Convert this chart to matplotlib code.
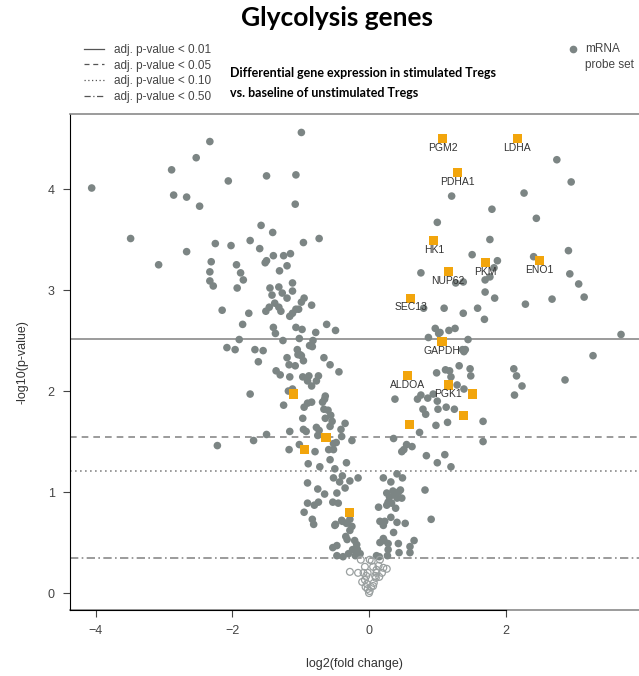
import matplotlib.pyplot as plt
from matplotlib.lines import Line2D

# log2 fold change / -log10 p for every probe set
probe_lfc = [
    -4.06, -3.49, -3.08, -2.89, -2.86, -2.67, -2.67, -2.53, -2.48, -2.33,
    -2.31, -2.33, -2.33, -2.28, -2.25, -2.15, -2.06, -2.02, -1.94, -1.88,
    -1.84, -1.93, -1.85, -1.90, -2.08, -1.96, -1.76, -1.74, -1.67, -1.55,
    -1.60, -1.58, -1.52, -1.50, -1.50, -1.45, -1.42, -1.41, -1.40, -1.38,
    -1.51, -1.46, -1.40, -1.37, -1.32, -1.31, -1.32, -1.29, -1.27, -1.26,
    -1.25, -1.20, -1.20, -1.20, -1.16, -1.15, -1.12, -1.12, -1.12, -1.08,
    -1.07, -1.07, -1.03, -1.07, -1.05, -1.04, -1.02, -0.99, -0.98, -0.95,
    -0.99, -0.96, -0.84, -0.87, -0.83, -0.82, -0.78, -0.73, -0.66, -0.62,
    -0.49, -1.01, -0.99, -0.96, -1.62, -0.57, -1.17, -1.08, -1.36, -0.44,
    -1.30, -1.16, -0.97, -0.88, -0.90, -0.74, -0.77, -0.84, -1.74, -1.18,
    -1.12, -0.64, -1.25, -0.90, -0.84, -0.95, -0.68, -0.65, -0.66, -0.60,
    -0.56, -0.97, -0.64, -0.54, -0.57, -0.96, -0.92, -1.16, -0.77, -0.73,
    -0.75, -0.41, -0.35, -0.40, -0.25, -0.48, -1.50, -1.69, -2.22, -1.17,
    -1.02, -0.79, -0.59, -0.52, -0.52, -0.89, -0.72, -0.57, -0.50, -0.33,
    -0.52, -0.39, -0.16, -0.28, -0.43, -0.35, -0.47, -0.53, -0.45, -0.90,
    -0.75, -0.65, -0.90, -0.80, -0.74, -0.95, -0.83, -0.81, -0.49, -0.39,
    -0.33, -0.28, -0.25, -0.28, -0.34, -0.32, -0.21, -0.18, -0.24, -0.17,
    -0.13, -0.47, -0.53, -0.47, -0.38, -0.30, -0.20, -0.40, -0.50,
    2.75, 2.96, 2.27, 1.21, 1.80, 2.45, 1.00, 1.77, 2.92, 1.51,
    1.88, 2.41, 1.83, 0.76, 1.77, 1.70, 1.27, 1.38, 2.94, 3.07,
    1.70, 1.84, 2.29, 2.68, 3.15, 1.10, 1.38, 1.59, 0.80, 1.69,
    0.97, 1.04, 1.02, 1.17, 1.26, 0.87, 1.45, 1.37, 1.41, 1.39,
    3.69, 3.28, 0.99, 1.12, 1.18, 1.20, 1.32, 1.48, 1.49, 1.29,
    1.39, 0.94, 0.86, 0.76, 0.71, 1.00, 0.38, 0.79, 0.83, 1.01,
    1.13, 1.25, 0.98, 1.15, 1.67, 0.74, 0.36, 1.67, 2.12, 2.16,
    2.24, 2.13, 2.87, 0.48, 0.51, 0.55, 0.63, 0.84, 1.00, 1.11,
    1.20, 0.21, 0.32, 0.41, 0.49, 0.26, 0.30, 0.28, 0.35, 0.38,
    0.41, 0.43, 0.46, 0.33, 0.14, 0.39, 0.82, 0.16, 0.21, 0.23,
    0.32, 0.41, 0.53, 0.36, 0.91, 0.21, 0.16, 0.22, 0.28, 0.28,
    0.43, 0.44, 0.60, 0.60, 0.66, 0.27, 0.15, 0.11, 0.26, 0.48,
]
probe_logp = [
    4.01, 3.51, 3.25, 4.19, 3.94, 3.92, 3.38, 4.31, 3.83, 4.47,
    3.28, 3.18, 3.09, 3.04, 3.46, 2.80, 4.08, 3.44, 3.25, 3.17,
    3.10, 3.02, 2.66, 2.51, 2.43, 2.41, 2.77, 3.49, 2.41, 2.40,
    3.41, 3.64, 3.27, 3.29, 4.13, 3.02, 2.95, 3.57, 3.34, 2.87,
    2.79, 2.83, 2.63, 2.57, 3.03, 3.19, 2.83, 2.79, 2.97, 2.50,
    3.34, 3.24, 2.92, 2.33, 2.74, 3.36, 3.07, 2.99, 2.77, 3.85,
    4.14, 2.81, 2.81, 2.63, 2.41, 2.36, 2.52, 2.88, 2.61, 2.92,
    4.56, 3.47, 2.85, 2.45, 2.44, 2.50, 2.58, 3.51, 2.33, 2.66,
    2.60, 2.36, 2.35, 2.30, 2.29, 2.26, 2.26, 2.25, 2.20, 2.19,
    2.16, 2.14, 2.14, 2.15, 2.10, 2.15, 2.10, 2.05, 1.97, 2.00,
    2.02, 1.95, 1.86, 1.88, 1.89, 1.84, 1.89, 1.92, 1.82, 1.81,
    1.76, 1.73, 1.73, 1.70, 1.65, 1.62, 1.60, 1.60, 1.64, 1.61,
    1.56, 1.62, 1.68, 1.55, 1.51, 1.49, 1.57, 1.51, 1.46, 1.42,
    1.47, 1.40, 1.42, 1.48, 1.42, 1.28, 1.25, 1.32, 1.23, 1.29,
    1.14, 1.16, 1.14, 1.11, 1.10, 1.04, 0.99, 0.90, 0.89, 1.09,
    1.03, 0.98, 0.89, 0.87, 0.90, 0.80, 0.73, 0.68, 0.68, 0.71,
    0.69, 0.73, 0.66, 0.62, 0.56, 0.53, 0.52, 0.48, 0.43, 0.43,
    0.39, 0.47, 0.45, 0.37, 0.36, 0.39, 0.37, 0.72, 0.67,
    4.29, 4.07, 3.96, 3.93, 3.80, 3.71, 3.67, 3.50, 3.39, 3.35,
    3.29, 3.33, 3.22, 3.17, 3.13, 3.10, 3.07, 3.08, 3.16, 3.06,
    2.98, 2.92, 2.86, 2.91, 2.93, 2.82, 2.77, 2.82, 2.82, 2.71,
    2.62, 2.58, 2.57, 2.60, 2.62, 2.53, 2.51, 2.41, 2.41, 2.39,
    2.56, 2.35, 2.18, 2.21, 2.20, 2.14, 2.25, 2.22, 2.15, 2.06,
    2.02, 1.97, 1.93, 1.96, 1.92, 1.90, 1.92, 1.82, 1.77, 1.82,
    1.84, 1.82, 1.66, 1.69, 1.70, 1.59, 1.53, 1.50, 2.22, 2.15,
    2.05, 1.96, 2.11, 1.40, 1.42, 1.47, 1.45, 1.36, 1.29, 1.37,
    1.25, 1.14, 1.10, 1.18, 1.14, 0.99, 0.95, 0.90, 1.01, 0.97,
    0.94, 1.00, 1.02, 0.89, 0.85, 0.84, 1.02, 0.71, 0.67, 0.71,
    0.75, 0.70, 0.69, 0.60, 0.73, 0.54, 0.50, 0.52, 0.49, 0.43,
    0.49, 0.40, 0.40, 0.46, 0.52, 0.37, 0.36, 0.37, 0.87, 0.94,
]

# probe sets above the adj. p < 0.50 cut-off are drawn hollow
ns_lfc = [
    -0.28, -0.16, -0.08, -0.06, -0.04, -0.10, -0.06, -0.03, -0.05, -0.02,
    0.01, 0.00, 0.03, 0.06, 0.09, 0.11, 0.06, 0.04, 0.16, 0.14,
    0.21, 0.26, 0.19, 0.11, 0.15, 0.07, -0.12, 0.10, -0.02, 0.01,
]
ns_logp = [
    0.21, 0.20, 0.20, 0.26, 0.17, 0.11, 0.13, 0.09, 0.06, 0.04,
    0.02, 0.00, 0.06, 0.07, 0.17, 0.23, 0.26, 0.32, 0.33, 0.27,
    0.25, 0.24, 0.20, 0.20, 0.16, 0.10, 0.33, 0.15, 0.20, 0.33,
]

# glycolysis genes
glyco_names = ["PGM2", "LDHA", "PDHA1", "HK1", "NUP62", "PKM", "ENO1", "SEC13",
               "GAPDH", "ALDOA", "PGK1", "", "", "", "", "", "", ""]
glyco_lfc = [1.08, 2.17, 1.29, 0.95, 1.16, 1.70, 2.50, 0.61,
             1.07, 0.56, 1.16, 1.51, 1.38, 0.59, -1.11, -0.63, -0.94, -0.28]
glyco_logp = [4.50, 4.50, 4.16, 3.49, 3.18, 3.27, 3.29, 2.92,
              2.49, 2.15, 2.06, 1.97, 1.76, 1.67, 1.97, 1.54, 1.42, 0.80]

# significance thresholds (-log10 p) for the adjusted p-values
cut_labels = ["adj. p-value < 0.01", "adj. p-value < 0.05",
              "adj. p-value < 0.10", "adj. p-value < 0.50"]
cut_values = [2.52, 1.545, 1.21, 0.347]
cut_styles = ["-", (0, (4, 3)), (0, (1, 2)), (0, (5, 2, 1, 2))]

grey_dot = "#7c8584"
orange = "#f2a50c"
line_grey = "#8a8a8a"

plt.rcParams["font.family"] = ["Liberation Sans", "DejaVu Sans"]

fig = plt.figure(figsize=(6.39, 6.76), dpi=100)
ax = fig.add_axes([0.1095, 0.0976, 0.8905, 0.7338])

for val, ls in zip(cut_values, cut_styles):
    ax.axhline(val, color=line_grey, lw=1.2, linestyle=ls, zorder=1)

ax.scatter(probe_lfc, probe_logp, s=30, color=grey_dot, edgecolors="none", zorder=2)
ax.scatter(ns_lfc, ns_logp, s=24, facecolors="none", edgecolors="#9aa0a0",
           linewidths=0.9, zorder=2)
ax.scatter(glyco_lfc, glyco_logp, s=44, marker="s", color=orange,
           edgecolors="none", zorder=3)
for name, x, y in zip(glyco_names, glyco_lfc, glyco_logp):
    if name:
        ax.annotate(name, (x, y), xytext=(0, -6.5), textcoords="offset points",
                    ha="center", va="center", fontsize=7.5, color="#333333", zorder=4)

ax.set_xlim(-4.378, 3.953)
ax.set_ylim(-0.168, 4.743)
ax.set_xticks([-4, -2, 0, 2])
ax.set_yticks([0, 1, 2, 3, 4])
ax.tick_params(direction="out", length=5, width=0.8, colors="#444444",
               labelsize=9, pad=6)

# R-style box: black axis lines, grey frame elsewhere
ax.spines["right"].set_visible(False)
ax.spines["top"].set_color(line_grey)
ax.spines["top"].set_linewidth(1.2)
ax.spines["left"].set_color("black")
ax.spines["bottom"].set_color("black")
ax.spines["bottom"].set_bounds(-4.378, 2)
ax.axhline(-0.168, color=line_grey, lw=1.2, zorder=0, clip_on=False)

ax.set_xlabel("log2(fold change)", fontsize=9, color="#333333", labelpad=15)
ax.set_ylabel("-log10(p-value)", fontsize=9, color="#333333", labelpad=14)

fig.text(0.527, 0.973, "Glycolysis genes", ha="center", va="center",
         fontsize=19, fontweight="bold", family=["Lato", "DejaVu Sans"])
fig.text(0.36, 0.877, "Differential gene expression in stimulated Tregs\n"
         "vs. baseline of unstimulated Tregs", ha="left", va="center",
         fontsize=9, fontweight="bold", family=["Lato", "DejaVu Sans"],
         linespacing=1.75)

handles = [Line2D([], [], color="#555555", lw=0.9, linestyle=ls) for ls in cut_styles]
fig.legend(handles, cut_labels, loc="upper left", bbox_to_anchor=(0.115, 0.951),
           frameon=False, fontsize=8.5, handlelength=1.7, handletextpad=0.8,
           labelspacing=0.32, labelcolor="#444444")

# point-type key in the top right corner
fig.add_artist(Line2D([0.8967], [0.9275], transform=fig.transFigure, color=grey_dot,
                      marker="o", linestyle="none", markersize=4.5))
fig.text(0.9155, 0.915, "mRNA\nprobe set", ha="left", va="center", fontsize=8.5,
         color="#444444", linespacing=1.45)

fig.savefig("out.png", dpi=100)
